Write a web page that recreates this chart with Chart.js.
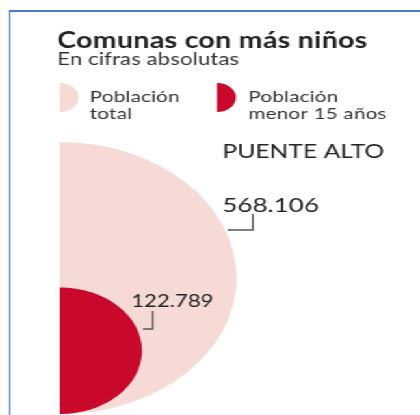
<!DOCTYPE html>
<html>
<head>
<meta charset="utf-8">
<script src="https://cdn.jsdelivr.net/npm/chart.js@4/dist/chart.umd.min.js"></script>
<style>
  html, body { margin: 0; padding: 0; background: #fff; overflow: hidden; }
  /* the reference graphic is stretched horizontally, so the whole piece is too */
  #wrap { position: relative; width: 323px; height: 415px; transform: scaleX(1.3); transform-origin: 0 0; }
  #wrap canvas { position: absolute; left: 0; top: 0; }
  .frame { position: absolute; left: 6.5px; top: 10px; right: -20px; bottom: -20px;
           border-top: 2px solid #4a7bd3; border-left: 1.6px solid #4a7bd3; }
</style>
</head>
<body>
<div id="wrap">
  <div class="frame"></div>
  <canvas id="totalChart" width="323" height="415"></canvas>
  <canvas id="kidsChart" width="323" height="415"></canvas>
</div>
<script>
// chart data
const comuna = 'PUENTE ALTO';
const categories = ['Población total', 'Población menor 15 años'];
const legendLines = [['Población', 'total'], ['Población', 'menor 15 años']];
const values = [568106, 122789];
const colors = ['#f6dad5', '#c8082c'];

const title = 'Comunas con más niños';
const subtitle = 'En cifras absolutas';
const textColor = '#222';
const font = 'Lato';

// big half circle box (unstretched px)
const left = 46;
const bottom = 414;
const bigR = 136;
const W = 323;
const H = 415;

// area-proportional radius for each series
const radii = values.map((v) => bigR * Math.sqrt(v / values[0]));

// "568.106" style thousands separator
const fmt = (n) => String(n).replace(/\B(?=(\d{3})+(?!\d))/g, '.');

// ROLE: draws title, legend and value labels on the background chart
const annotations = {
  id: 'annotations',
  afterDraw(chart) {
    const ctx = chart.ctx;
    ctx.save();
    ctx.fillStyle = textColor;
    ctx.textBaseline = 'alphabetic';

    ctx.font = `bold 22px ${font}`;
    ctx.letterSpacing = '0.2px';
    ctx.fillText(title, 44, 48);
    ctx.font = `17px ${font}`;
    ctx.letterSpacing = '0.1px';
    ctx.fillStyle = '#333';
    ctx.fillText(subtitle, 44, 65);

    // legend: half circle marker + two lines of text
    const legendX = [[46, 69], [167, 191]];
    legendLines.forEach((lines, i) => {
      ctx.fillStyle = colors[i];
      ctx.beginPath();
      ctx.moveTo(legendX[i][0], 83);
      ctx.arc(legendX[i][0], 97.5, 14.5, -Math.PI / 2, Math.PI / 2);
      ctx.closePath();
      ctx.fill();
      ctx.fillStyle = '#333';
      ctx.font = `16px ${font}`;
      ctx.letterSpacing = '0.1px';
      ctx.fillText(lines[0], legendX[i][1], 102);
      ctx.fillText(lines[1], legendX[i][1], 119);
    });

    ctx.letterSpacing = '0px';
    ctx.fillStyle = textColor;
    ctx.font = `19px ${font}`;
    ctx.fillText(comuna, 171, 158);

    // value labels with little bracket leaders
    ctx.strokeStyle = '#555';
    ctx.lineWidth = 1.3;
    ctx.font = `20px ${font}`;
    ctx.fillText(fmt(values[0]), 171, 212);
    ctx.beginPath();
    ctx.moveTo(194.5, 214);
    ctx.lineTo(194.5, 230);
    ctx.lineTo(175, 230);
    ctx.stroke();

    ctx.font = `17px ${font}`;
    ctx.fillText(fmt(values[1]), 101, 307);
    ctx.beginPath();
    ctx.moveTo(117.5, 311);
    ctx.lineTo(117.5, 329);
    ctx.lineTo(110, 329);
    ctx.stroke();
    ctx.restore();
  },
};

// ROLE: one right-half pie per series, bottom aligned at the same left edge
const makeHalf = (id, i, plugins) => {
  const r = radii[i];
  const config = {
    type: 'pie',
    data: {
      labels: [categories[i]],
      datasets: [
        {
          data: [values[i]],
          backgroundColor: colors[i],
          borderWidth: 0,
          offset: 0,
          hoverOffset: 0,
        },
      ],
    },
    options: {
      responsive: false,
      animation: false,
      events: [],
      rotation: 0,
      circumference: 180,
      layout: {
        padding: {
          left: left,
          top: bottom - 2 * r,
          right: W - left - r,
          bottom: H - bottom,
        },
      },
      plugins: {
        legend: { display: false },
        tooltip: { enabled: false },
      },
    },
    plugins: plugins,
  };
  return new Chart(document.getElementById(id), config);
};

makeHalf('totalChart', 0, [annotations]);
makeHalf('kidsChart', 1, []);
</script>
</body>
</html>
